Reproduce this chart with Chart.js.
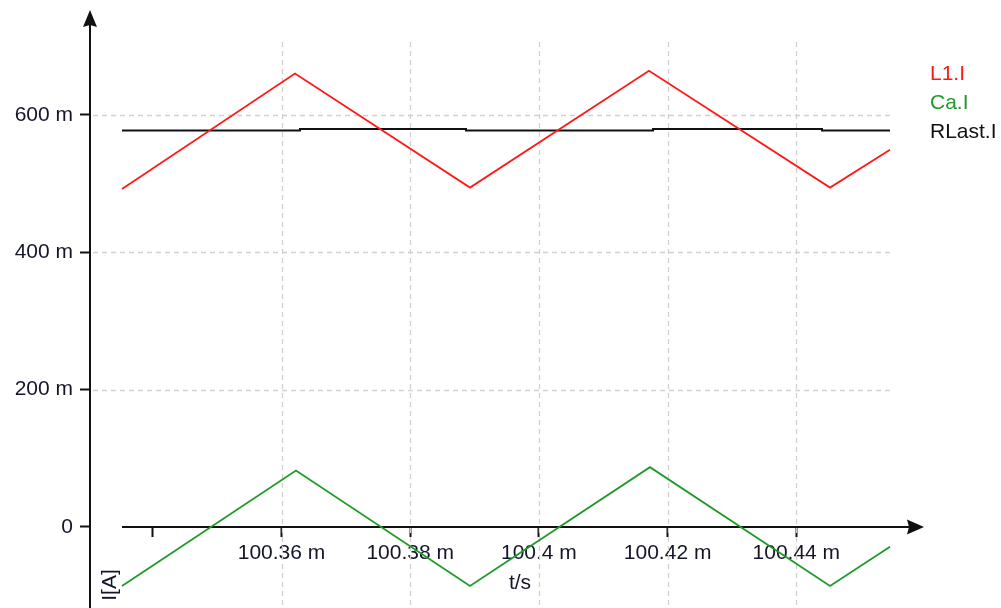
<!DOCTYPE html>
<html>
<head>
<meta charset="utf-8">
<title>Currents</title>
<script src="https://cdn.jsdelivr.net/npm/chart.js@4.4.1/dist/chart.umd.min.js"></script>
<style>
  html, body { margin: 0; padding: 0; background: #ffffff; overflow: hidden; }
  #wrap { position: relative; width: 1001px; height: 608px; }
</style>
</head>
<body>
<div id="wrap"><canvas id="c" width="1001" height="608"></canvas></div>
<script>
// Series names and colours
const seriesNames = ['L1.I', 'Ca.I', 'RLast.I'];
const seriesColors = ['#ff1a1a', '#1f9a2a', '#111111'];

// Time in ms, current in mA
const l1Time = [100.33521, 100.36210, 100.38929, 100.41711, 100.44524, 100.45456];
const l1Current = [492, 660, 494, 664, 494, 549];

const caTime = [100.33521, 100.36225, 100.38929, 100.41726, 100.44524, 100.45456];
const caCurrent = [-86, 82, -86, 87, -86, -29];

// Load current holds each value until the next sample time
const rLastTime = [100.33521, 100.36287, 100.38867, 100.41773, 100.44399, 100.45456];
const rLastCurrent = [577, 579.5, 577, 579.5, 577, 577];

// Axis ticks
const xTickValues = [100.34, 100.36, 100.38, 100.40, 100.42, 100.44];
const xTickLabels = ['', '100.36 m', '100.38 m', '100.4 m', '100.42 m', '100.44 m'];
const yTickValues = [0, 200, 400, 600];
const yTickLabels = ['0', '200 m', '400 m', '600 m'];

const FONT = '"Liberation Sans", Arial, sans-serif';
const FONT_SIZE = 21;
const TEXT = '#15152a';

const pts = (xs, ys) => xs.map((x, i) => ({ x: x, y: ys[i] }));

function line(ctx, x1, y1, x2, y2) {
  ctx.beginPath();
  ctx.moveTo(x1, y1);
  ctx.lineTo(x2, y2);
  ctx.stroke();
}

// Dashed grid, axis lines with arrowheads, legend and axis titles
const axesPlugin = {
  id: 'axesArrows',
  beforeDatasetsDraw(chart) {
    const { ctx, chartArea: a, scales: { x, y } } = chart;
    ctx.save();
    ctx.strokeStyle = '#d5d0cb';
    ctx.lineWidth = 1.3;
    ctx.setLineDash([5, 4]);
    xTickValues.forEach((v, i) => {
      if (!xTickLabels[i]) return;
      const px = Math.round(x.getPixelForValue(v)) + 0.5;
      line(ctx, px, a.top, px, a.bottom);
    });
    yTickValues.forEach(v => {
      if (v === 0) return;
      const py = Math.round(y.getPixelForValue(v)) + 0.5;
      line(ctx, a.left + 3, py, a.right, py);
    });
    ctx.setLineDash([]);

    // vertical axis
    const ax = a.left;
    ctx.strokeStyle = '#111';
    ctx.fillStyle = '#111';
    ctx.lineWidth = 2;
    line(ctx, ax, 24, ax, chart.height);
    ctx.beginPath();
    ctx.moveTo(ax, 10);
    ctx.lineTo(ax + 7, 27);
    ctx.lineTo(ax, 25);
    ctx.lineTo(ax - 7, 27);
    ctx.closePath();
    ctx.fill();

    // horizontal axis through zero
    const ay = Math.round(y.getPixelForValue(0));
    const xs = Math.round(x.getPixelForValue(l1Time[0]));
    line(ctx, xs, ay, 910, ay);
    ctx.beginPath();
    ctx.moveTo(924, ay);
    ctx.lineTo(907, ay - 7.5);
    ctx.lineTo(909, ay);
    ctx.lineTo(907, ay + 7.5);
    ctx.closePath();
    ctx.fill();
    ctx.restore();
  },
  afterDraw(chart) {
    const { ctx } = chart;
    ctx.save();
    ctx.font = FONT_SIZE + 'px ' + FONT;
    ctx.textBaseline = 'middle';
    ctx.textAlign = 'left';
    seriesNames.forEach((n, i) => {
      ctx.fillStyle = seriesColors[i];
      ctx.fillText(n, 930, 74 + i * 29);
    });
    ctx.fillStyle = TEXT;
    ctx.textAlign = 'center';
    ctx.fillText('t/s', 520, 583);
    ctx.translate(110, 585);
    ctx.rotate(-Math.PI / 2);
    ctx.fillText('I[A]', 0, 0);
    ctx.restore();
  }
};

const baseSet = { pointRadius: 0, tension: 0, borderWidth: 1.8, clip: false, fill: false };

new Chart(document.getElementById('c'), {
  type: 'line',
  data: {
    datasets: [
      Object.assign({ label: seriesNames[0], data: pts(l1Time, l1Current), borderColor: seriesColors[0] }, baseSet),
      Object.assign({ label: seriesNames[1], data: pts(caTime, caCurrent), borderColor: seriesColors[1] }, baseSet),
      // 'before' draws the horizontal run first, then the vertical step
      Object.assign({ label: seriesNames[2], data: pts(rLastTime, rLastCurrent), borderColor: seriesColors[2] }, baseSet, { stepped: 'before', borderWidth: 2 })
    ]
  },
  options: {
    responsive: false,
    animation: false,
    devicePixelRatio: 1,
    events: [],
    layout: { padding: { left: 0, top: 42, right: 111, bottom: 0 } },
    plugins: { legend: { display: false }, tooltip: { enabled: false } },
    scales: {
      x: {
        type: 'linear',
        min: 100.33024,
        max: 100.45456,
        position: { y: 0 },
        afterBuildTicks: s => { s.ticks = xTickValues.map(v => ({ value: v })); },
        afterFit: s => { s.paddingLeft = 0; s.paddingRight = 0; },
        grid: { drawOnChartArea: false, drawTicks: true, tickLength: 10, tickWidth: 2, tickColor: '#111', color: '#111' },
        border: { display: false },
        ticks: {
          autoSkip: false, maxRotation: 0, minRotation: 0, padding: 4,
          color: TEXT, font: { family: FONT, size: FONT_SIZE },
          callback: (v, i) => xTickLabels[i]
        }
      },
      y: {
        type: 'linear',
        min: -118,
        max: 706,
        position: 'left',
        afterBuildTicks: s => { s.ticks = yTickValues.map(v => ({ value: v })); },
        afterFit: s => { s.width = 90; s.paddingTop = 0; s.paddingBottom = 0; },
        grid: { drawOnChartArea: false, drawTicks: true, tickLength: 10, tickWidth: 2, tickColor: '#111', color: '#111' },
        border: { display: false },
        ticks: {
          autoSkip: false, padding: 7,
          color: TEXT, font: { family: FONT, size: FONT_SIZE },
          callback: (v, i) => yTickLabels[i]
        }
      }
    }
  },
  plugins: [axesPlugin]
});
</script>
</body>
</html>
